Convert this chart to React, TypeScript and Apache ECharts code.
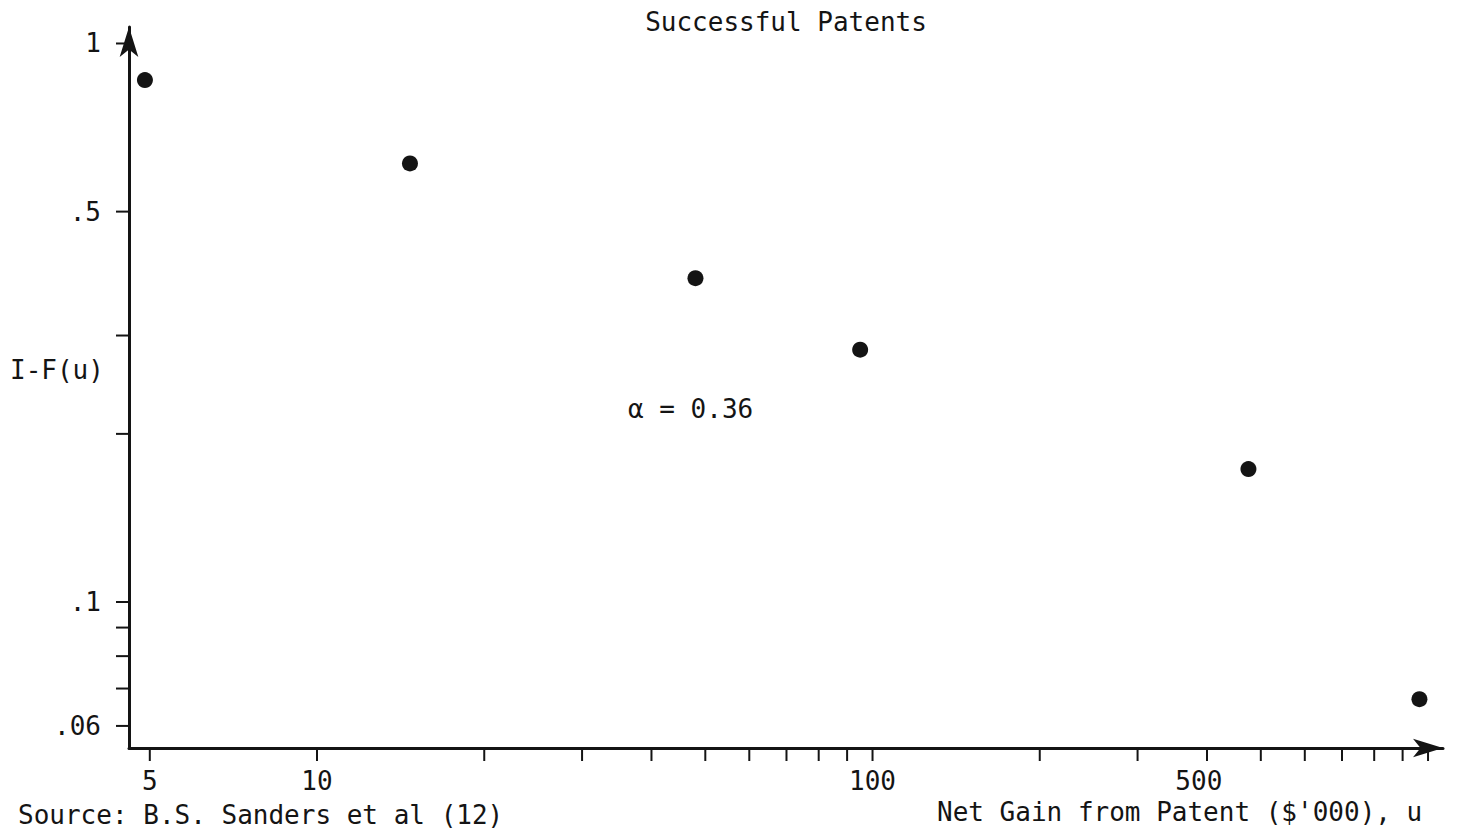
import { useEffect, useRef } from "react";
import * as echarts from "echarts";

// Data points (log-log plot)
const xValues = [4.9, 14.7, 48, 95, 475, 965];
const yValues = [0.86, 0.61, 0.38, 0.283, 0.173, 0.067];

// Axis ticks and labels
const xTickValues = [5, 10, 20, 30, 40, 50, 60, 70, 80, 90, 100, 200, 300, 400, 500, 600, 700, 800, 900, 1000];
const xLabelValues = [5, 10, 100, 500];
const xLabelTexts = ["5", "10", "100", "500"];

const yTickValues = [1, 0.5, 0.3, 0.2, 0.1, 0.09, 0.08, 0.07, 0.06];
const yLabelValues = [1, 0.5, 0.1, 0.06];
const yLabelTexts = ["1", ".5", ".1", ".06"];

const X_MIN = 4.587;
const X_MAX = 1064;
const Y_MIN = 0.05478;
const Y_MAX = 1.0703;

const INK = "#141414";
const FONT = '26px "DejaVu Sans Mono", monospace';
// In the original, the "500" label sits left of its tick
const xLabelShift: Record<string, number> = { "500": -62 };

export default function App() {
  const ref = useRef<HTMLDivElement>(null);
  useEffect(() => {
    if (!ref.current) return;
    const chart = echarts.init(ref.current, undefined, { renderer: "svg" });
    const axisLineCommon = {
      show: true,
      onZero: false,
      lineStyle: { color: INK, width: 3 },
      symbol: ["none", "arrow"],
      symbolSize: [14, 30],
    };
    const option: any = {
      animation: false,
      backgroundColor: "#ffffff",
      grid: { left: 129, right: 24, top: 27, bottom: 85, containLabel: false, outerBoundsMode: "none" },
      xAxis: {
        type: "log",
        logBase: 10,
        min: X_MIN,
        max: X_MAX,
        axisLine: axisLineCommon,
        axisTick: { show: false },
        axisLabel: { show: false },
        splitLine: { show: false },
        minorTick: { show: false },
      },
      yAxis: {
        type: "log",
        logBase: 10,
        min: Y_MIN,
        max: Y_MAX,
        axisLine: axisLineCommon,
        axisTick: { show: false },
        axisLabel: { show: false },
        splitLine: { show: false },
        minorTick: { show: false },
      },
      series: [
        {
          type: "custom",
          name: "xTicks",
          silent: true,
          clip: false,
          data: xTickValues.map((v) => [v, Y_MIN]),
          renderItem: (params: any, api: any) => {
            const p = api.coord([api.value(0), Y_MIN]);
            return {
              type: "line",
              shape: { x1: p[0], y1: p[1], x2: p[0], y2: p[1] + 13 },
              style: { stroke: INK, lineWidth: 2 },
            };
          },
        },
        {
          type: "custom",
          name: "xLabels",
          silent: true,
          clip: false,
          data: xLabelValues.map((v) => [v, Y_MIN]),
          renderItem: (params: any, api: any) => {
            const p = api.coord([api.value(0), Y_MIN]);
            const t = xLabelTexts[params.dataIndex];
            return {
              type: "text",
              x: p[0] + (xLabelShift[t] || 0),
              y: p[1] + 33,
              style: { text: t, font: FONT, fill: INK, align: "center", verticalAlign: "middle" },
            };
          },
        },
        {
          type: "custom",
          name: "yTicks",
          silent: true,
          clip: false,
          data: yTickValues.map((v) => [X_MIN, v]),
          renderItem: (params: any, api: any) => {
            const p = api.coord([X_MIN, api.value(1)]);
            return {
              type: "line",
              shape: { x1: p[0] - 13, y1: p[1], x2: p[0], y2: p[1] },
              style: { stroke: INK, lineWidth: 2 },
            };
          },
        },
        {
          type: "custom",
          name: "yLabels",
          silent: true,
          clip: false,
          data: yLabelValues.map((v) => [X_MIN, v]),
          renderItem: (params: any, api: any) => {
            const p = api.coord([X_MIN, api.value(1)]);
            return {
              type: "text",
              x: p[0] - 28,
              y: p[1],
              style: {
                text: yLabelTexts[params.dataIndex],
                font: FONT,
                fill: INK,
                align: "right",
                verticalAlign: "middle",
              },
            };
          },
        },
        {
          type: "scatter",
          name: "Successful Patents",
          symbol: "circle",
          symbolSize: 16,
          itemStyle: { color: INK, opacity: 1 },
          z: 5,
          data: xValues.map((x, i) => [x, yValues[i]]),
        },
      ],
      graphic: [
        {
          type: "text",
          x: 786,
          y: 22,
          style: { text: "Successful Patents", font: FONT, fill: INK, align: "center", verticalAlign: "middle" },
        },
        {
          type: "text",
          x: 10,
          y: 370,
          style: { text: "I-F(u)", font: FONT, fill: INK, align: "left", verticalAlign: "middle" },
        },
        {
          type: "text",
          x: 628,
          y: 409,
          style: { text: "α = 0.36", font: FONT, fill: INK, align: "left", verticalAlign: "middle" },
        },
        {
          type: "text",
          x: 18,
          y: 815,
          style: { text: "Source: B.S. Sanders et al (12)", font: FONT, fill: INK, align: "left", verticalAlign: "middle" },
        },
        {
          type: "text",
          x: 937,
          y: 812,
          style: { text: "Net Gain from Patent ($'000), u", font: FONT, fill: INK, align: "left", verticalAlign: "middle" },
        },
      ],
    };
    chart.setOption(option);
    return () => chart.dispose();
  }, []);
  return (
    <div
      ref={ref}
      style={{ position: "fixed", left: 0, top: 0, width: 1467, height: 833, background: "#ffffff" }}
    />
  );
}
